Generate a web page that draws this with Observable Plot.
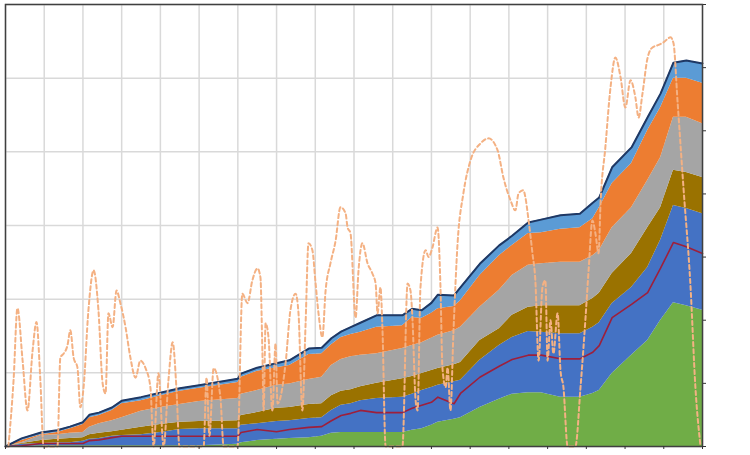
<!DOCTYPE html>
<html><head><meta charset="utf-8">
<script src="https://cdn.jsdelivr.net/npm/d3@7"></script>
<script src="https://cdn.jsdelivr.net/npm/@observablehq/plot@0.6"></script>
<style>body{margin:0;background:#fff}#chart svg{display:block}</style>
</head><body><div id="chart"></div>
<script>
// x: month index (18 yearly intervals)
const months = [0,5,11,16,20,24,26,29,33,36,42,48,54,60,72,73,78,84,88,94,98,101,104,107,110,115,123,126,129,132,134,139,141,147,153,157,162,166,172,178,182,184,188,194,199,203,207,211,216];
// cumulative stack levels (left axis, 0-60)
const levelGreen = [0,0,0.1,0.1,0.1,0.1,0.1,0.1,0.1,0.1,0.1,0.1,0.1,0.1,0.3,0.5,0.8,1.0,1.1,1.2,1.4,1.8,1.9,1.9,1.9,1.9,1.9,2.2,2.4,2.9,3.3,3.7,3.9,5.3,6.4,7.1,7.3,7.3,6.7,6.7,7.2,7.6,9.9,12.4,14.4,17.1,19.5,19.1,18.5];
const levelBlue = [0,0.3,0.4,0.5,0.5,0.7,1.0,1.1,1.4,1.5,1.6,1.9,2.3,2.4,2.4,2.9,3.1,3.4,3.5,3.8,3.9,4.9,5.6,5.8,6.2,6.5,6.7,7.1,7.6,8.0,8.3,8.8,9.0,11.7,13.7,14.8,15.6,15.5,15.3,15.3,16.2,16.8,19.4,21.6,24.3,28.0,32.7,32.3,31.6];
const levelBrown = [0,0.4,0.8,1.0,1.1,1.2,1.6,1.8,2.0,2.2,2.6,3.0,3.3,3.4,3.5,4.2,4.6,5.2,5.3,5.7,5.8,6.9,7.5,7.7,8.1,8.6,9.2,9.5,9.9,10.3,10.6,11.1,11.4,14.4,16.0,17.8,18.9,19.1,19.1,19.1,20.1,20.8,23.5,26.2,29.7,32.4,37.5,37.2,36.5];
const levelGray = [0,0.5,1.5,1.6,1.8,1.9,2.6,3.1,3.5,3.9,4.8,5.3,5.7,6.1,6.5,7.1,7.6,8.3,8.5,9.1,9.4,11.0,11.8,12.2,12.4,12.6,13.3,13.7,14.1,14.7,15.1,15.7,16.2,18.9,21.2,23.2,24.6,24.8,25.0,25.0,25.9,26.6,29.7,32.4,36.1,39.2,44.7,44.7,43.8];
const levelOrange = [0,0.8,1.6,1.9,2.4,3.0,3.9,4.2,4.9,5.8,6.2,6.9,7.5,7.9,8.7,9.4,10.2,10.7,11.0,12.5,12.6,13.8,14.8,15.2,15.5,16.2,16.4,17.5,17.4,18.1,18.7,19.0,19.8,23.2,25.9,27.3,28.9,29.0,29.5,29.7,30.9,32.4,35.7,38.4,42.9,46.0,50.0,50.0,49.3];
const levelTotal = [0,1.1,1.9,2.2,2.7,3.3,4.3,4.6,5.3,6.2,6.7,7.3,7.9,8.3,9.2,9.9,10.7,11.3,11.7,13.3,13.4,14.7,15.6,16.2,16.8,17.8,17.8,18.7,18.5,19.5,20.6,20.5,21.6,24.8,27.3,28.6,30.4,30.8,31.4,31.6,33.1,33.8,37.9,40.6,44.7,47.9,52.1,52.4,52.0];
const redLine = [0,0.1,0.4,0.4,0.4,0.4,0.8,0.9,1.2,1.4,1.4,1.4,1.4,1.4,1.4,1.9,2.3,2.0,2.3,2.6,2.7,3.5,4.2,4.5,4.9,4.6,4.6,5.2,5.6,6.0,6.7,5.8,7.2,9.4,10.9,11.8,12.4,12.4,11.9,11.9,12.8,13.7,17.5,19.3,20.9,24.2,27.7,27.1,26.2];
// dashed series (right axis, 0-70)
const dashMonths = [0.9,2.5,3.7,5.3,6.8,8.4,9.6,10.8,11.8,16.1,17.0,18.0,19.2,20.1,21.1,22.3,23.2,24.2,25.7,27.3,28.8,30.1,31.0,31.9,33.2,34.4,35.6,37.2,38.7,40.3,41.8,43.4,44.9,45.9,47.4,49.0,50.5,51.8,53.0,53.9,61.4,62.3,63.2,64.5,66.6,67.6,71.9,73.4,75.0,76.5,78.1,79.0,79.6,80.0,80.6,81.5,82.7,83.7,84.3,86.8,88.3,89.9,90.8,92.0,93.0,93.9,95.1,96.1,97.0,98.2,99.2,100.7,102.3,103.8,105.4,106.0,106.9,108.5,109.4,110.6,112.2,113.7,114.7,115.3,116.2,116.8,117.8,123.0,124.6,125.5,126.1,127.1,127.7,128.6,130.2,131.1,132.3,133.9,134.8,135.4,136.4,137.0,137.9,138.8,140.1,141.9,144.1,147.2,149.7,152.5,154.3,156.5,158.0,159.0,160.5,161.1,162.1,163.3,164.2,165.2,166.4,167.3,168.0,168.9,169.8,171.1,172.0,172.9,174.2,176.6,178.2,179.7,180.7,181.9,182.8,183.8,184.4,185.9,187.5,189.0,190.6,192.1,193.7,195.2,196.2,197.4,199.0,200.5,202.4,203.9,206.1,207.0,208.3,210.1,212.3,213.8,215.4];
const dashValues = [0,10.5,21.9,13.6,5.7,15.2,19.7,10.5,0,0,14.1,14.7,16.0,18.4,14.1,12.5,6.2,9.4,21.6,27.9,21.6,10.0,8.4,21.1,18.9,24.7,22.7,18.9,14.1,10.9,13.6,12.4,9.4,0,11.6,0,10.5,16.5,8.9,0,0,10.9,1.7,12.4,7.8,0,0,24.2,22.7,26.3,28.2,26.8,15.2,5.7,19.5,17.3,5.7,16.3,6.8,13.2,21.6,24.2,21.1,5.7,19.5,32.2,31.1,25.8,21.1,17.3,24.7,29.0,32.6,37.9,36.9,34.7,33.8,20.4,27.9,32.2,29.0,27.4,25.8,21.1,25.2,18.9,0,0,25.8,24.7,20.4,7.3,5.7,25.2,31.1,30.0,31.5,34.7,25.2,12.5,9.4,12.5,5.7,17.9,32.2,40.1,45.3,48.0,48.8,46.9,42.6,39.0,37.4,40.1,40.6,39.5,35.8,30.6,26.3,13.6,25.2,26.3,13.6,20.0,14.7,21.1,12.0,9.4,0,0,9.4,20.0,27.9,35.8,33.8,30.6,38.5,47.4,56.9,61.6,58.5,53.7,58.0,55.3,52.1,55.9,61.6,63.2,63.6,64.0,64.8,63.9,54.4,41.0,25.2,9.4,0];
const xTicks = d3.range(0, 217, 12);
const leftTicks = d3.range(0, 61, 10);
const rightTicks = d3.range(0, 71, 10);

const rows = months.map((m, i) => ({m, g: levelGreen[i], b: levelBlue[i], br: levelBrown[i], gr: levelGray[i], o: levelOrange[i], t: levelTotal[i], r: redLine[i]}));
const dash = dashMonths.map((m, i) => ({m, v: dashValues[i]}));
const layers = [
  ["lo0", "g", "#70ad47"],
  ["g", "b", "#4472c4"],
  ["b", "br", "#9a7200"],
  ["br", "gr", "#a5a5a5"],
  ["gr", "o", "#ed7d31"],
  ["o", "t", "#5b9bd5"]
];
const toRight = v => v * 60 / 70;

const chart = Plot.plot({
  width: 750, height: 455,
  marginLeft: 5, marginRight: 48, marginTop: 4, marginBottom: 9,
  style: {background: "#fff"},
  x: {domain: [0, 216], axis: null},
  y: {domain: [0, 60], axis: null},
  marks: [
    Plot.gridX(xTicks, {stroke: "#d9d9d9", strokeOpacity: 1, strokeWidth: 1.5}),
    Plot.gridY(leftTicks, {stroke: "#d9d9d9", strokeOpacity: 1, strokeWidth: 1.5}),
    ...layers.map(([lo, hi, c]) => Plot.areaY(rows, {x: "m", y1: d => lo === "lo0" ? 0 : d[lo], y2: hi, fill: c})),
    Plot.line(rows, {x: "m", y: "r", stroke: "#9e1f3b", strokeWidth: 1.6}),
    Plot.line(rows, {x: "m", y: "t", stroke: "#1f3864", strokeWidth: 2}),
    Plot.line(dash, {x: "m", y: d => toRight(d.v), stroke: "#f4b183", strokeWidth: 2, strokeDasharray: "4,3", curve: "monotone-x"}),
    Plot.frame({stroke: "#404040", strokeWidth: 1.5}),
    Plot.axisX(xTicks, {anchor: "bottom", tickSize: 3, tickFormat: () => "", stroke: "#333", label: null}),
    Plot.axisY(rightTicks, {anchor: "right", y: d => toRight(d), tickSize: 3, tickFormat: () => "", stroke: "#333", label: null})
  ]
});
document.getElementById("chart").append(chart);
</script>
</body></html>
